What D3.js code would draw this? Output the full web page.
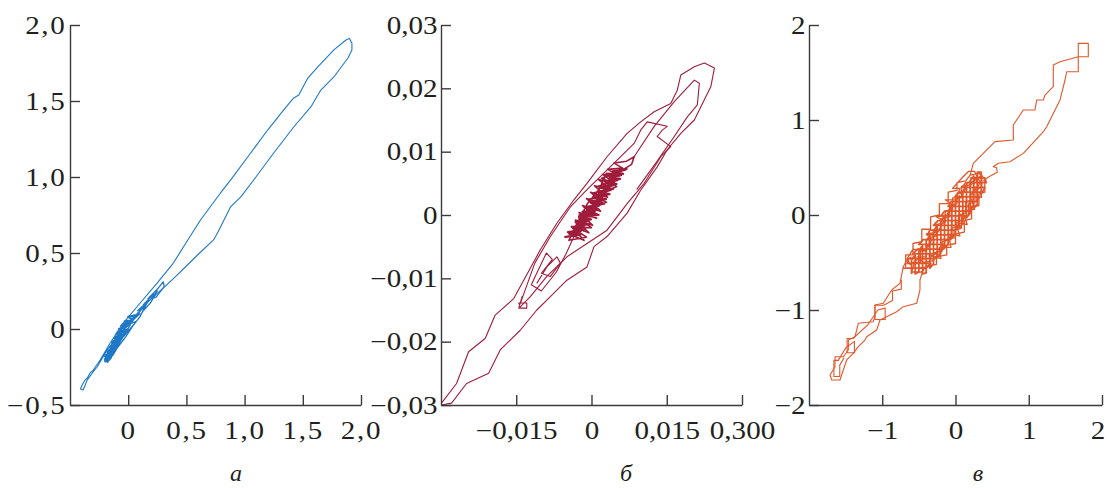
<!DOCTYPE html>
<html>
<head>
<meta charset="utf-8">
<script src="https://cdn.jsdelivr.net/npm/d3@7"></script>
<style>
  body { margin: 0; background: #fff; }
  svg { display: block; }
  .axis text { font-family: "Liberation Serif", "Times New Roman", serif; font-size: 25.5px; fill: #231f20; }
  .axis path, .axis line { stroke: #3b3b3b; stroke-width: 1.4; }
  .panel-label { font-family: "Liberation Serif", "Times New Roman", serif; font-style: italic; font-size: 24px; fill: #231f20; }
</style>
</head>
<body>
<svg width="1107" height="490"></svg>
<script>
// ---- panel a: blue loop ----
var xTicksA = [0, 0.5, 1.0, 1.5, 2.0];
var xLabelsA = ["0", "0,5", "1,0", "1,5", "2,0"];
var yTicksA = [-0.5, 0, 0.5, 1.0, 1.5, 2.0];
var yLabelsA = ["\u22120,5", "0", "0,5", "1,0", "1,5", "2,0"];

var outerA = [[1.90,1.912],[1.922,1.88],[1.922,1.836],[1.888,1.783],[1.767,1.658],[1.655,1.572],[1.569,1.461],
  [1.422,1.329],[1.25,1.158],[1.078,0.98],[0.966,0.868],[0.879,0.803],[0.767,0.632],[0.733,0.586],[0.60,0.49],
  [0.491,0.408],[0.40,0.34],[0.302,0.27],[0.20,0.20],[0.103,0.125],[0.03,0.06],[-0.043,-0.007],[-0.11,-0.07],
  [-0.181,-0.138],[-0.267,-0.25],[-0.30,-0.28],[-0.353,-0.336],[-0.37,-0.37],[-0.388,-0.401],[-0.41,-0.395],
  [-0.397,-0.37],[-0.371,-0.336],[-0.35,-0.32],[-0.328,-0.289],[-0.30,-0.27],[-0.241,-0.204],[-0.155,-0.092],
  [-0.043,0.039],[0.103,0.171],[0.25,0.303],[0.388,0.434],[0.474,0.539],[0.621,0.717],[0.793,0.895],[0.879,0.98],
  [1.052,1.158],[1.198,1.309],[1.336,1.441],[1.422,1.52],[1.466,1.539],[1.543,1.651],[1.629,1.724],[1.767,1.836],
  [1.871,1.901],[1.90,1.912]];

var innerA = [[-0.19,-0.21],[-0.12,-0.13],[-0.17,-0.17],[-0.08,-0.09],[-0.16,-0.19],[-0.05,-0.06],[-0.14,-0.14],
  [0.0,0.0],[-0.11,-0.13],[-0.03,-0.02],[-0.15,-0.16],[-0.07,-0.06],[-0.18,-0.19],[-0.10,-0.11],[0.02,0.03],
  [-0.04,-0.05],[0.07,0.05],[0.0,0.03],[0.10,0.10],[0.05,0.07],[0.14,0.15],[0.08,0.12],[0.18,0.19],[0.13,0.16],
  [0.22,0.23],[0.17,0.20],[0.26,0.27],[0.30,0.31],[0.31,0.28],[0.24,0.21],[0.20,0.20],[0.25,0.25],[0.19,0.17],
  [0.13,0.12],[0.16,0.17],[0.10,0.08],[0.04,0.02],[-0.02,-0.05],[-0.09,-0.12],[-0.13,-0.17],[-0.17,-0.21],
  [-0.20,-0.20],[-0.15,-0.13],[-0.09,-0.08],[-0.13,-0.12],[-0.06,-0.04],[-0.10,-0.10],[-0.02,0.0],[-0.06,-0.07],
  [-0.16,-0.18],[-0.11,-0.10],[-0.18,-0.16],[-0.12,-0.15]];

var blobA = [[-0.205,-0.215],[-0.16,-0.20],[-0.20,-0.18],[-0.14,-0.17],[-0.18,-0.15],[-0.12,-0.14],[-0.16,-0.12],
  [-0.10,-0.11],[-0.14,-0.09],[-0.08,-0.08],[-0.12,-0.06],[-0.06,-0.05],[-0.10,-0.03],[-0.04,-0.02],[-0.08,0.0],
  [-0.02,0.01],[-0.05,0.03],[0.01,0.04],[-0.03,0.05],[0.04,0.06],[0.0,0.08],[0.06,0.09],[0.03,0.05],[-0.01,0.02],
  [-0.06,0.02],[-0.03,-0.01],[-0.09,-0.02],[-0.05,-0.04],[-0.11,-0.05],[-0.07,-0.07],[-0.13,-0.08],[-0.09,-0.10],
  [-0.15,-0.11],[-0.11,-0.13],[-0.17,-0.14],[-0.13,-0.16],[-0.19,-0.17],[-0.15,-0.19],[-0.20,-0.20],[-0.17,-0.22]];

// ---- panel б: crimson loops ----
var xTicksB = [-0.015, 0, 0.015, 0.03];
var xLabelsB = ["\u22120,015", "0", "0,015", "0,300"];
var yTicksB = [-0.03, -0.02, -0.01, 0, 0.01, 0.02, 0.03];
var yLabelsB = ["\u22120,03", "\u22120,02", "\u22120,01", "0", "0,01", "0,02", "0,03"];

var outerB = [[-0.0299,-0.0297],[-0.0269,-0.0266],[-0.0245,-0.0216],[-0.0212,-0.0195],[-0.0192,-0.0158],
  [-0.0155,-0.0132],[-0.0102,-0.0055],[-0.0069,-0.0013],[-0.0035,0.0024],[-0.0009,0.005],[0.0031,0.0092],
  [0.0071,0.0129],[0.0098,0.0147],[0.0125,0.0163],[0.0158,0.0176],[0.0171,0.0197],[0.0178,0.0221],
  [0.0205,0.0234],[0.0225,0.024],[0.0245,0.0232],[0.0238,0.0203],[0.0218,0.0171],[0.0205,0.015],
  [0.0178,0.0129],[0.0151,0.0103],[0.0131,0.0076],[0.0098,0.0039],[0.0071,0.0003],[0.0031,-0.0034],
  [0.0005,-0.005],[-0.0009,-0.0082],[-0.0049,-0.0103],[-0.0082,-0.0129],[-0.0109,-0.015],[-0.0142,-0.0182],
  [-0.0182,-0.0213],[-0.0205,-0.025],[-0.0249,-0.0266],[-0.0279,-0.0297],[-0.0299,-0.03]];

var midB = [[-0.0142,-0.014],[-0.0113,-0.0076],[-0.0082,-0.0034],[-0.0042,0.0013],[-0.0009,0.004],
  [0.0045,0.0082],[0.0085,0.0113],[0.0098,0.0134],[0.0111,0.0147],[0.0151,0.014],[0.0141,0.0134],
  [0.0131,0.0124],[0.0158,0.0108],[0.0138,0.0092],[0.0105,0.005],[0.0071,0.0018],[0.0031,-0.0024],
  [-0.0009,-0.0045],[-0.0049,-0.0066],[-0.0089,-0.0097],[-0.0122,-0.0129],[-0.0142,-0.0145],
  [-0.0145,-0.0139],[-0.0129,-0.0139],[-0.0129,-0.0147],[-0.0145,-0.0147],[-0.0138,-0.0128]];

var hookB = [[0.0085,0.0092],[0.0125,0.0140],[0.0165,0.0179],[0.0205,0.0213],[0.0215,0.0208],[0.0211,0.0174],
  [0.0191,0.0155],[0.0165,0.0124],[0.0131,0.0085],[0.0090,0.0040]];

var curlB = [[-0.0109,-0.0108],[-0.0089,-0.0082],[-0.0069,-0.0066],[-0.0062,-0.0076],[-0.0082,-0.0097],
  [-0.0100,-0.0092],[-0.0078,-0.0070],[-0.0090,-0.0060],[-0.0120,-0.0110],[-0.0100,-0.0120],[-0.0070,-0.0090],
  [-0.0050,-0.0060],[-0.0035,-0.0034]];

var clusterB = [[-0.0045,-0.0030],[-0.0015,-0.0040],[-0.0040,-0.0018],[-0.0005,-0.0028],[-0.0032,-0.0008],
  [0.0002,-0.0016],[-0.0025,0.0004],[0.0010,-0.0005],[-0.0018,0.0015],[0.0018,0.0006],[-0.0010,0.0026],
  [0.0025,0.0017],[-0.0002,0.0036],[0.0032,0.0028],[0.0006,0.0046],[0.0040,0.0040],[0.0014,0.0056],
  [0.0047,0.0050],[0.0022,0.0064],[0.0055,0.0062],[0.0032,0.0072],[0.0062,0.0074],[0.0045,0.0082],
  [0.0070,0.0085],[0.0085,0.0092],[0.0080,0.0080],[0.0060,0.0070],[0.0035,0.0055],[0.0050,0.0045],
  [0.0010,0.0030],[0.0030,0.0020],[-0.0010,0.0010],[0.0015,0.0000],[-0.0025,-0.0005],[0.0000,-0.0020],
  [-0.0038,-0.0020],[-0.0010,-0.0035],[-0.0045,-0.0040],[-0.0030,-0.0015],[-0.0005,-0.0010],
  [-0.0025,0.0000],[0.0005,0.0002],[-0.0015,0.0012],[0.0015,0.0015],[-0.0005,0.0025],[0.0022,0.0028],
  [0.0005,0.0035],[0.0030,0.0040],[0.0012,0.0045],[0.0038,0.0052],[0.0020,0.0058],[0.0045,0.0065],
  [0.0030,0.0066],[0.0015,0.0040],[-0.0008,0.0018],[-0.0028,-0.0012]];

var blobB = [[-0.0054,-0.0035],[-0.0022,-0.0031],[-0.0047,-0.0027],[-0.0015,-0.0023],[-0.0039,-0.0019],
  [-0.0008,-0.0015],[-0.0032,-0.0011],[-0.0001,-0.0007],[-0.0025,-0.0003],[0.0007,0.0001],[-0.0018,0.0005],
  [0.0014,0.0009],[-0.0010,0.0013],[0.0021,0.0017],[-0.0003,0.0021],[0.0029,0.0025],[0.0004,0.0029],
  [0.0036,0.0033],[0.0012,0.0037],[0.0043,0.0041],[0.0019,0.0045],[0.0050,0.0049],[0.0027,0.0053],
  [0.0057,0.0057],[0.0035,0.0061],[0.0063,0.0065],[0.0042,0.0069],[0.0070,0.0073],
  [0.0066,0.0071],[0.0043,0.0067],[0.0059,0.0063],[0.0036,0.0059],[0.0052,0.0055],[0.0028,0.0051],
  [0.0045,0.0047],[0.0021,0.0043],[0.0037,0.0039],[0.0014,0.0035],[0.0030,0.0031],[0.0006,0.0027],
  [0.0023,0.0023],[-0.0001,0.0019],[0.0016,0.0015],[-0.0008,0.0011],[0.0008,0.0007],[-0.0016,0.0003],
  [0.0001,-0.0001],[-0.0023,-0.0005],[-0.0006,-0.0009],[-0.0030,-0.0013],[-0.0014,-0.0017],[-0.0037,-0.0021],
  [-0.0021,-0.0025],[-0.0045,-0.0029],[-0.0028,-0.0033]];

// ---- panel в: orange staircase loops ----
var xTicksC = [-1, 0, 1, 2];
var xLabelsC = ["\u22121", "0", "1", "2"];
var yTicksC = [-2, -1, 0, 1, 2];
var yLabelsC = ["\u22122", "\u22121", "0", "1", "2"];

var upperC = [[0.20,0.42],[0.243,0.544],[0.539,0.772],[0.789,0.789],[0.789,0.947],[0.926,1.105],[1.085,1.105],
  [1.109,1.211],[1.199,1.211],[1.222,1.263],[1.29,1.316],[1.335,1.351],[1.335,1.579],[1.427,1.614],
  [1.676,1.666],[1.676,1.807],[1.813,1.807],[1.813,1.666],[1.676,1.666],[1.676,1.508],[1.518,1.508],
  [1.495,1.421],[1.427,1.211],[1.245,0.929],[1.199,0.877],[0.926,0.649],[0.744,0.561],[0.584,0.544],
  [0.516,0.508],[0.56,0.50],[0.57,0.45],[0.45,0.40],[0.38,0.36]];

var tailC = [[-0.60,-0.44],[-0.666,-0.474],[-0.713,-0.544],[-0.758,-0.719],[-0.871,-0.789],[-0.986,-0.929],
  [-1.099,-0.947],[-1.099,-1.07],[-1.122,-1.123],[-1.327,-1.14],[-1.372,-1.281],[-1.463,-1.316],
  [-1.463,-1.421],[-1.532,-1.492],[-1.645,-1.492],[-1.645,-1.597],[-1.713,-1.684],[-1.69,-1.737],
  [-1.577,-1.737],[-1.532,-1.632],[-1.485,-1.526],[-1.395,-1.456],[-1.327,-1.386],[-1.236,-1.316],
  [-1.212,-1.281],[-1.076,-1.211],[-1.031,-1.105],[-0.939,-1.07],[-0.803,-1.018],[-0.713,-0.965],
  [-0.530,-0.929],[-0.485,-0.789],[-0.485,-0.684],[-0.45,-0.60]];

var loopsC = [[-0.74,-0.68],[-0.74,-0.78],[-0.86,-0.80],[-0.86,-0.90],[-0.98,-0.95],[-1.10,-0.95],[-1.10,-1.10],
  [-0.96,-1.10],[-0.96,-0.98],[-1.06,-1.00],[-1.20,-1.16],[-1.40,-1.30],[-1.48,-1.30],[-1.48,-1.45],
  [-1.38,-1.45],[-1.38,-1.33],[-1.50,-1.40],[-1.60,-1.53],[-1.66,-1.53],[-1.66,-1.70],[-1.58,-1.70],
  [-1.58,-1.58],[-1.52,-1.50]];

var clusterC = [[-0.68,-0.55],[-0.68,-0.42],[-0.58,-0.42],[-0.58,-0.30],[-0.46,-0.28],[-0.46,-0.15],
  [-0.34,-0.15],[-0.34,-0.02],[-0.22,0.0],[-0.22,0.12],[-0.10,0.12],[-0.10,0.24],[0.02,0.26],[0.02,0.34],
  [0.14,0.36],[0.20,0.42],[0.32,0.44],[0.40,0.38],[0.40,0.24],[0.32,0.22],[0.32,0.10],[0.22,0.08],
  [0.22,-0.04],[0.12,-0.06],[0.12,-0.18],[0.0,-0.2],[0.0,-0.3],[-0.12,-0.32],[-0.12,-0.42],[-0.26,-0.44],
  [-0.26,-0.52],[-0.40,-0.54],[-0.46,-0.60],[-0.60,-0.60],
  [-0.56,-0.50],[-0.48,-0.50],[-0.48,-0.38],[-0.36,-0.36],[-0.36,-0.24],[-0.26,-0.22],[-0.26,-0.10],
  [-0.14,-0.08],[-0.14,0.04],[-0.04,0.06],[-0.04,0.18],[0.08,0.18],[0.08,0.30],[0.22,0.32],[0.28,0.40],
  [0.30,0.30],[0.24,0.28],[0.24,0.16],[0.14,0.14],[0.14,0.02],[0.04,0.0],[0.04,-0.12],[-0.06,-0.14],
  [-0.06,-0.26],[-0.18,-0.28],[-0.18,-0.38],[-0.30,-0.40],[-0.30,-0.48],[-0.44,-0.50],
  [-0.52,-0.44],[-0.40,-0.44],[-0.40,-0.32],[-0.30,-0.30],[-0.30,-0.18],[-0.20,-0.16],[-0.20,-0.04],
  [-0.08,-0.02],[-0.08,0.10],[0.02,0.12],[0.02,0.22],[0.12,0.24],[0.16,0.34],[0.26,0.36],[0.36,0.42],
  [0.36,0.30],[0.28,0.26],[0.28,0.14],[0.18,0.12],[0.18,0.0],[0.08,-0.02],[0.08,-0.14],[-0.02,-0.16],
  [-0.02,-0.24],[-0.14,-0.26],[-0.16,-0.36],[-0.24,-0.38],[-0.36,-0.46],[-0.50,-0.46],[-0.62,-0.52],
  [-0.66,-0.46],[-0.58,-0.36],[-0.42,-0.38],[-0.32,-0.26],[-0.40,-0.20],[-0.24,-0.18],[-0.16,-0.06],
  [-0.26,-0.02],[-0.12,0.0],[-0.02,0.10],[-0.14,0.16],[0.0,0.16],[0.06,0.28],[-0.04,0.28],[0.10,0.40],
  [0.18,0.46],[0.26,0.46],[0.34,0.34],[0.20,0.20],[0.26,0.06],[0.10,0.04],[0.16,-0.10],[0.00,-0.08],
  [0.06,-0.22],[-0.10,-0.20],[-0.06,-0.34],[-0.22,-0.34],[-0.20,-0.46],[-0.36,-0.42],[-0.34,-0.54],
  [-0.52,-0.56]];

// horizontal stair rows filling the dense core
var rowsC = [[-0.72,-0.56],[-0.40,-0.56],[-0.34,-0.51],[-0.66,-0.51],[-0.64,-0.46],[-0.28,-0.46],
  [-0.24,-0.41],[-0.58,-0.41],[-0.52,-0.36],[-0.18,-0.36],[-0.15,-0.31],[-0.50,-0.31],[-0.44,-0.26],
  [-0.10,-0.26],[-0.05,-0.21],[-0.38,-0.21],[-0.35,-0.16],[0.0,-0.16],[0.05,-0.11],[-0.30,-0.11],
  [-0.24,-0.06],[0.09,-0.06],[0.14,-0.01],[-0.20,-0.01],[-0.15,0.04],[0.19,0.04],[0.24,0.09],[-0.10,0.09],
  [-0.06,0.14],[0.28,0.14],[0.33,0.19],[-0.01,0.19],[0.04,0.24],[0.37,0.24],[0.40,0.29],[0.09,0.29],
  [0.14,0.34],[0.42,0.34],[0.40,0.39],[0.20,0.39]];

// vertical stair columns through the same core
var colsC = [[-0.60,-0.62],[-0.60,-0.47],[-0.55,-0.42],[-0.55,-0.62],[-0.50,-0.60],[-0.50,-0.37],
  [-0.45,-0.325],[-0.45,-0.62],[-0.40,-0.61],[-0.40,-0.27],[-0.35,-0.22],[-0.35,-0.56],[-0.30,-0.51],
  [-0.30,-0.17],[-0.25,-0.11],[-0.25,-0.45],[-0.20,-0.40],[-0.20,-0.06],[-0.15,-0.01],[-0.15,-0.35],
  [-0.10,-0.30],[-0.10,0.04],[-0.05,0.10],[-0.05,-0.24],[0.0,-0.19],[0.0,0.15],[0.05,0.20],[0.05,-0.14],
  [0.10,-0.09],[0.10,0.25],[0.15,0.31],[0.15,-0.03],[0.20,0.02],[0.20,0.36],[0.25,0.41],[0.25,0.07],
  [0.30,0.12],[0.30,0.45],[0.35,0.45],[0.35,0.18]];

// each trace with the stroke weight it needs (dense cores print heavier)
var panels = [
  { xr: [70, 361], xd: [-0.5, 2.0], yd: [-0.5, 2.0], xt: xTicksA, xl: xLabelsA, yt: yTicksA, yl: yLabelsA,
    color: "#1f78c6", series: [[outerA, 1.1], [innerA, 1.3], [blobA, 2.2]],
    label: "\u0430", labelX: 236, spacing: 1.5 },
  { xr: [441, 742], xd: [-0.03, 0.03], yd: [-0.03, 0.03], xt: xTicksB, xl: xLabelsB, yt: yTicksB, yl: yLabelsB,
    color: "#a01c3b", series: [[outerB, 1.1], [midB, 1.1], [hookB, 1.1], [curlB, 1.1], [clusterB, 1.6], [blobB, 2.2]],
    label: "\u0431", labelX: 626, spacing: 0 },
  { xr: [809, 1102], xd: [-2, 2], yd: [-2, 2], xt: xTicksC, xl: xLabelsC, yt: yTicksC, yl: yLabelsC,
    color: "#e0572a", series: [[upperC, 1.1], [tailC, 1.1], [loopsC, 1.1], [clusterC, 1.3], [rowsC, 1.8], [colsC, 1.8]],
    label: "\u0432", labelX: 978, spacing: 0 }
];

var svg = d3.select("svg");
var yRange = [405, 25];

panels.forEach(function(p, pi) {
  var x = d3.scaleLinear().domain(p.xd).range(p.xr);
  var y = d3.scaleLinear().domain(p.yd).range(yRange);

  // the traces
  var line = d3.line()
    .x(function(d) { return x(d[0]); })
    .y(function(d) { return y(d[1]); });

  var g = svg.append("g");
  p.series.forEach(function(s) {
    g.append("path")
      .datum(s[0])
      .attr("d", line)
      .attr("fill", "none")
      .attr("stroke", p.color)
      .attr("stroke-width", s[1])
      .attr("stroke-linejoin", "round");
  });

  // X axis, ticks point inward
  var xAxis = svg.append("g")
    .attr("class", "axis")
    .attr("transform", "translate(0," + yRange[0] + ")")
    .call(d3.axisBottom(x)
      .tickValues(p.xt)
      .tickFormat(function(d, i) { return p.xl[i]; })
      .tickSize(-10)
      .tickSizeOuter(0)
      .tickPadding(16));

  // Y axis
  var yAxis = svg.append("g")
    .attr("class", "axis")
    .attr("transform", "translate(" + p.xr[0] + ",0)")
    .call(d3.axisLeft(y)
      .tickValues(p.yt)
      .tickFormat(function(d, i) { return p.yl[i]; })
      .tickSize(-10)
      .tickSizeOuter(0)
      .tickPadding(3));

  // the printed digits are a little wider than Liberation Serif
  [xAxis, yAxis].forEach(function(ax) {
    ax.selectAll("text")
      .style("letter-spacing", p.spacing + "px")
      .attr("transform", "scale(1.14,1)");
  });
  // last label of the right panel sits on the page edge
  if (pi === 2) {
    xAxis.selectAll(".tick text").filter(function(d) { return d === 2; }).attr("dx", "-4");
  }

  svg.append("text")
    .attr("class", "panel-label")
    .attr("x", p.labelX)
    .attr("y", 481)
    .attr("text-anchor", "middle")
    .text(p.label);
});
</script>
</body>
</html>
